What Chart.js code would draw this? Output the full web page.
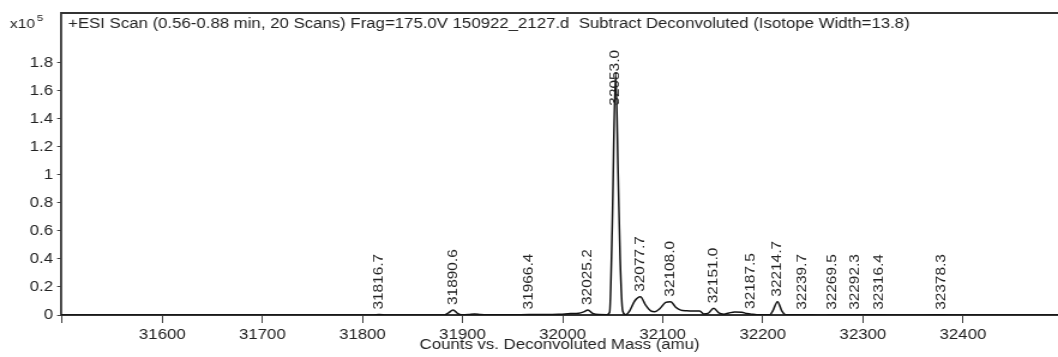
<!DOCTYPE html>
<html>
<head>
<meta charset="utf-8">
<script src="https://cdn.jsdelivr.net/npm/chart.js@4.4.0/dist/chart.umd.min.js"></script>
<style>
  html, body { margin: 0; padding: 0; background: #fff; overflow: hidden; }
  /* the plot is laid out at 882px and widened to 1058px, like the instrument export */
  #wrap { width: 882px; height: 357px; transform: scaleX(1.19955); transform-origin: 0 0; }
</style>
</head>
<body>
<div id="wrap"><canvas id="spectrum" width="882" height="357"></canvas></div>
<script>
const scanTitle = "+ESI Scan (0.56-0.88 min, 20 Scans) Frag=175.0V 150922_2127.d  Subtract Deconvoluted (Isotope Width=13.8)";
const massAxisTitle = "Counts vs. Deconvoluted Mass (amu)";

// deconvoluted profile, counts in units of 10^5
const masses = [31499, 31810, 31816.7, 31824, 31882, 31886, 31890.6, 31895, 31899, 31906,
  31912, 31918, 31925, 31950, 31966.4, 31985, 31998, 32008, 32016, 32021,
  32025.2, 32030, 32036, 32044, 32047, 32049.5, 32053.0, 32055.5, 32057.5, 32060,
  32063, 32067, 32072, 32077.7, 32083, 32088, 32092, 32097, 32103, 32108.0,
  32113, 32118, 32124, 32130, 32137, 32141, 32145, 32151.0, 32156, 32161,
  32166, 32172, 32179, 32184, 32187.5, 32194, 32207, 32210, 32214.7, 32219,
  32223, 32239.7, 32255, 32269.5, 32292.3, 32316.4, 32340, 32378.3, 32400, 32495];
const counts = [0, 0, 0.003, 0, 0, 0.015, 0.036, 0.012, 0.002, 0.004,
  0.008, 0.003, 0.001, 0.001, 0.004, 0.003, 0.006, 0.01, 0.012, 0.022,
  0.036, 0.012, 0.003, 0.002, 0.02, 0.6, 1.73, 1.0, 0.4, 0.03,
  0.002, 0.03, 0.1, 0.13, 0.07, 0.03, 0.024, 0.045, 0.09, 0.095,
  0.055, 0.035, 0.03, 0.028, 0.028, 0.008, 0.01, 0.048, 0.015, 0.006,
  0.014, 0.022, 0.02, 0.01, 0.008, 0.002, 0.002, 0.03, 0.095, 0.03,
  0.002, 0.002, 0, 0.001, 0.001, 0.001, 0, 0.001, 0, 0];

// labelled peak centroids
const peakMasses = [31816.7, 31890.6, 31966.4, 32025.2, 32053.0, 32077.7, 32108.0, 32151.0,
  32187.5, 32214.7, 32239.7, 32269.5, 32292.3, 32316.4, 32378.3];

const xTickValues = [31500, 31600, 31700, 31800, 31900, 32000, 32100, 32200, 32300, 32400];
const yTickValues = [0, 0.2, 0.4, 0.6, 0.8, 1, 1.2, 1.4, 1.6, 1.8];

const FONT = 'Arial, "Liberation Sans", sans-serif';

// frame top, scan header, exponent and rotated peak labels
const decorations = {
  id: 'decorations',
  afterDraw(chart) {
    const { ctx, chartArea: a, scales: { x, y } } = chart;
    ctx.save();
    ctx.strokeStyle = '#333';
    ctx.lineWidth = 2;
    ctx.beginPath();
    ctx.moveTo(a.left - 1, a.top);
    ctx.lineTo(a.right, a.top);
    ctx.stroke();

    ctx.fillStyle = '#222';
    ctx.textBaseline = 'alphabetic';
    ctx.font = '14px ' + FONT;
    ctx.textAlign = 'left';
    ctx.fillText(scanTitle, a.left + 5.7, 28);

    ctx.font = '13px ' + FONT;
    ctx.textAlign = 'right';
    ctx.fillText('x10', 29.2, 28);
    ctx.font = '9.5px ' + FONT;
    ctx.textAlign = 'left';
    ctx.fillText('5', 30.8, 20.5);

    ctx.font = '14px ' + FONT;
    ctx.textBaseline = 'middle';
    peakMasses.forEach(m => {
      const i = masses.indexOf(m);
      const px = x.getPixelForValue(m);
      const text = m.toFixed(1);
      const len = ctx.measureText(text).width * 1.1;
      let bottom = y.getPixelForValue(counts[i]) - 5;
      if (bottom - len < 50) bottom = 50 + len;
      ctx.save();
      ctx.translate(px, bottom);
      ctx.rotate(-Math.PI / 2);
      ctx.scale(1.1, 0.83);
      ctx.fillText(text, 0, 0);
      ctx.restore();
    });
    ctx.restore();
  }
};

new Chart(document.getElementById('spectrum'), {
  type: 'line',
  data: {
    datasets: [{
      data: masses.map((m, i) => ({ x: m, y: counts[i] })),
      borderColor: '#111',
      borderWidth: 1.5,
      pointRadius: 0,
      cubicInterpolationMode: 'monotone',
      fill: false
    }]
  },
  options: {
    responsive: false,
    animation: false,
    layout: { padding: { top: 13, left: 0, right: 0, bottom: 0 } },
    plugins: { legend: { display: false }, tooltip: { enabled: false } },
    scales: {
      x: {
        type: 'linear',
        min: 31499,
        max: 32495,
        afterFit: s => { s.height = 42; },
        afterBuildTicks: s => { s.ticks = xTickValues.map(v => ({ value: v })); },
        border: { color: '#333', width: 2 },
        grid: { drawOnChartArea: false, drawTicks: true, tickLength: 8, color: '#444' },
        ticks: {
          autoSkip: false,
          maxRotation: 0,
          padding: 4,
          color: '#222',
          font: { family: FONT, size: 14 },
          callback: v => (v === 31500 ? '' : String(v))
        },
        title: {
          display: true,
          text: massAxisTitle,
          color: '#222',
          font: { family: FONT, size: 14 },
          padding: { top: 0, bottom: 3 }
        }
      },
      y: {
        min: 0,
        max: 2.155,
        afterFit: s => { s.width = 51; },
        afterBuildTicks: s => { s.ticks = yTickValues.map(v => ({ value: v })); },
        border: { color: '#333', width: 1.8 },
        grid: { drawOnChartArea: false, drawTicks: true, tickLength: 3.4, color: '#444' },
        ticks: {
          padding: 3.3,
          color: '#222',
          font: { family: FONT, size: 14 },
          callback: v => String(v)
        }
      }
    }
  },
  plugins: [decorations]
});
</script>
</body>
</html>
